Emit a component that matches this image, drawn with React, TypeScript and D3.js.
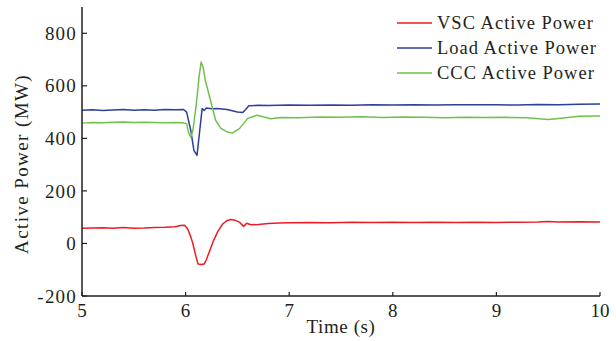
import React from "react";
import * as d3 from "d3";

// ---- data ----
const vscTime = [5.0, 5.1, 5.2, 5.3, 5.4, 5.5, 5.6, 5.7, 5.8, 5.9, 5.95, 5.99, 6.02, 6.05, 6.07, 6.1, 6.12, 6.15, 6.18, 6.2, 6.24, 6.27, 6.31, 6.36, 6.4, 6.44, 6.48, 6.52, 6.56, 6.59, 6.63, 6.7, 6.8, 6.9, 7.0, 7.2, 7.4, 7.6, 7.8, 8.0, 8.2, 8.4, 8.6, 8.8, 9.0, 9.2, 9.4, 9.5, 9.6, 9.8, 10.0];
const vscPower = [58, 59, 60, 58, 61, 58, 59, 61, 62, 64, 68, 69, 55, 25, 0, -50, -78, -80, -78, -62, -20, 11, 45, 75, 87, 91, 88, 81, 65, 77, 71, 72, 76, 78, 79, 80, 79, 81, 80, 81, 80, 81, 80, 81, 80, 81, 82, 84, 82, 83, 82];

const loadTime = [5.0, 5.1, 5.2, 5.3, 5.4, 5.5, 5.6, 5.7, 5.8, 5.9, 5.98, 6.01, 6.05, 6.08, 6.11, 6.14, 6.16, 6.18, 6.2, 6.25, 6.3, 6.35, 6.4, 6.45, 6.5, 6.55, 6.58, 6.61, 6.7, 6.8, 6.9, 7.0, 7.2, 7.4, 7.6, 7.8, 8.0, 8.2, 8.4, 8.6, 8.8, 9.0, 9.2, 9.4, 9.6, 9.8, 10.0];
const loadPower = [507, 509, 506, 508, 510, 507, 509, 507, 510, 509, 510, 500, 430, 354, 335, 443, 514, 506, 516, 513, 514, 512, 510, 505, 500, 498, 510, 524, 526, 525, 526, 527, 526, 527, 526, 528, 527, 528, 527, 528, 528, 528, 527, 529, 528, 530, 531];

const cccTime = [5.0, 5.1, 5.2, 5.3, 5.4, 5.5, 5.6, 5.7, 5.8, 5.9, 5.98, 6.01, 6.03, 6.05, 6.07, 6.1, 6.13, 6.15, 6.17, 6.19, 6.24, 6.29, 6.34, 6.4, 6.45, 6.52, 6.6, 6.69, 6.82, 6.92, 7.08, 7.3, 7.5, 7.7, 7.9, 8.1, 8.3, 8.5, 8.7, 8.9, 9.1, 9.3, 9.5, 9.6, 9.8, 10.0];
const cccPower = [458, 460, 459, 461, 462, 460, 461, 460, 459, 460, 459, 455, 420, 405, 430, 519, 634, 691, 670, 621, 545, 469, 438, 425, 420, 437, 476, 488, 475, 479, 478, 481, 480, 482, 479, 481, 480, 478, 480, 479, 480, 478, 472, 476, 484, 485];

const xTicks = [5, 6, 7, 8, 9, 10];
const yTicks = [-200, 0, 200, 400, 600, 800];
const seriesNames = ["VSC Active Power", "Load Active Power", "CCC Active Power"];
const seriesColors = ["#ec1c24", "#2c3f9c", "#70c04c"];

const W = 616;
const H = 341;
const left = 82;
const right = 600;
const top = 7;
const bottom = 296;
const font = "'Liberation Serif', 'DejaVu Serif', serif";
const ink = "#231f20";

export default function App() {
  const x = d3.scaleLinear().domain([5, 10]).range([left, right]);
  const y = d3.scaleLinear().domain([-200, 900]).range([bottom, top]);
  const line = d3
    .line<[number, number]>()
    .x((d) => x(d[0]))
    .y((d) => y(d[1]));

  const series = [
    { t: vscTime, v: vscPower },
    { t: loadTime, v: loadPower },
    { t: cccTime, v: cccPower },
  ];

  return (
    <svg width={W} height={H} style={{ position: "absolute", left: 0, top: 0, background: "#fff" }}>
      {series.map((s, i) => (
        <path
          key={i}
          d={line(s.t.map((t, j) => [t, s.v[j]] as [number, number])) || ""}
          fill="none"
          stroke={seriesColors[i]}
          strokeWidth={1.5}
          strokeLinejoin="round"
        />
      ))}
      {/* axes */}
      <line x1={left} y1={top} x2={left} y2={bottom} stroke={ink} strokeWidth={1.5} />
      <line x1={left} y1={bottom} x2={right} y2={bottom} stroke={ink} strokeWidth={1.5} />
      {yTicks.map((t) => (
        <g key={"y" + t}>
          <line x1={left} x2={left + 5} y1={y(t)} y2={y(t)} stroke={ink} strokeWidth={1.2} />
          <text x={left - 5} y={y(t)} dy="0.35em" textAnchor="end" fontFamily={font} fontSize={19} letterSpacing={1.2} fill={ink}>
            {t}
          </text>
        </g>
      ))}
      {xTicks.map((t) => (
        <g key={"x" + t}>
          <line x1={x(t)} x2={x(t)} y1={bottom} y2={bottom - 4} stroke={ink} strokeWidth={1.2} />
          <text x={x(t)} y={bottom + 21} textAnchor="middle" fontFamily={font} fontSize={19} fill={ink}>
            {t}
          </text>
        </g>
      ))}
      <text x={341} y={333} textAnchor="middle" fontFamily={font} fontSize={19} letterSpacing={0.6} fill={ink}>
        Time (s)
      </text>
      <text
        transform={`translate(28, 164) rotate(-90)`}
        textAnchor="middle"
        fontFamily={font}
        fontSize={19}
        letterSpacing={1.4}
        fill={ink}
      >
        Active Power (MW)
      </text>
      {/* legend */}
      {seriesNames.map((n, i) => (
        <g key={n}>
          <line x1={397} x2={432} y1={23 + i * 25} y2={23 + i * 25} stroke={seriesColors[i]} strokeWidth={1.5} />
          <text x={437} y={23 + i * 25} dy="0.35em" fontFamily={font} fontSize={18.5} letterSpacing={1} fill={ink}>
            {n}
          </text>
        </g>
      ))}
    </svg>
  );
}
